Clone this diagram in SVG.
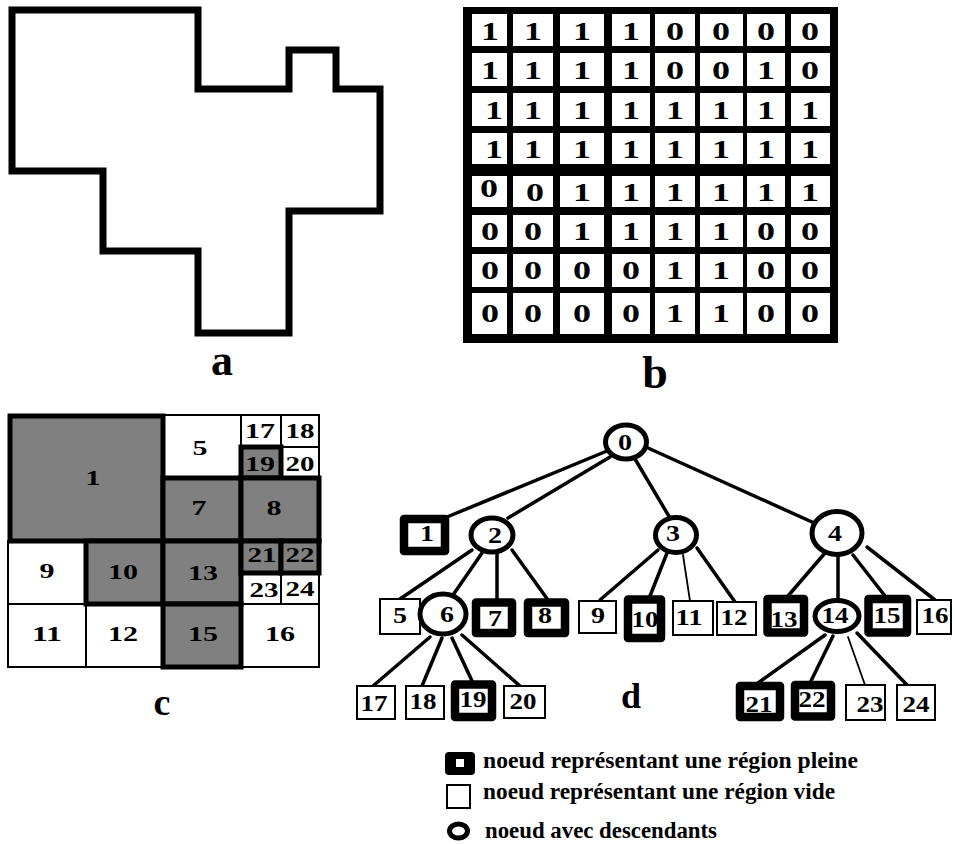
<svg xmlns="http://www.w3.org/2000/svg" width="955" height="844" viewBox="0 0 955 844">
  <style>
    text { font-family: "Liberation Serif", "Times New Roman", serif; font-weight: bold; fill: #000; }
    .big { font-size: 44px; text-anchor: middle; }
    .bd { font-size: 25px; text-anchor: middle; }
    .cd { font-size: 20px; text-anchor: middle; }
    .td { font-size: 23px; text-anchor: middle; }
    .leg { font-size: 23px; }
    .outline { fill: none; stroke: #000; stroke-width: 7; stroke-linejoin: miter; }
    .cell { fill: #fff; }
    .qw { fill: #fff; stroke: #000; stroke-width: 2; }
    .qg { fill: #808080; stroke: #000; stroke-width: 5; }
    .full { fill: #fff; stroke: #000; stroke-width: 8.5; stroke-linejoin: round; }
    .empty { fill: #fff; stroke: #000; stroke-width: 2; }
    .inner { fill: #fff; stroke: #000; stroke-width: 5; }
    .edge { stroke: #000; stroke-width: 3.5; stroke-linecap: round; }
    .edge.thin { stroke-width: 1.8; }
  </style>

  <rect width="955" height="844" fill="#fff"/>

  <!-- (a) shape outline on an 8x8 raster -->
  <g id="shape-a">
    <path class="outline" d="M12,10 H198 V89 H289 V50 H336 V89 H380 V211 H289 V333 H198 V251 H103 V171 H12 Z"/>
    <text class="big" x="222" y="375">a</text>
  </g>

  <!-- (b) binary matrix -->
  <g id="matrix-b">
    <rect x="463" y="7" width="375" height="336" fill="#000"/>
    <g class="cell">
      <rect x="472" y="14" width="35" height="32"/><rect x="513" y="14" width="40" height="32"/><rect x="560" y="14" width="44" height="32"/><rect x="612" y="14" width="38" height="32"/><rect x="655" y="14" width="40" height="32"/><rect x="700" y="14" width="43" height="32"/><rect x="747" y="14" width="38" height="32"/><rect x="791" y="14" width="39" height="32"/>
      <rect x="472" y="53" width="35" height="33"/><rect x="513" y="53" width="40" height="33"/><rect x="560" y="53" width="44" height="33"/><rect x="612" y="53" width="38" height="33"/><rect x="655" y="53" width="40" height="33"/><rect x="700" y="53" width="43" height="33"/><rect x="747" y="53" width="38" height="33"/><rect x="791" y="53" width="39" height="33"/>
      <rect x="472" y="93" width="35" height="33"/><rect x="513" y="93" width="40" height="33"/><rect x="560" y="93" width="44" height="33"/><rect x="612" y="93" width="38" height="33"/><rect x="655" y="93" width="40" height="33"/><rect x="700" y="93" width="43" height="33"/><rect x="747" y="93" width="38" height="33"/><rect x="791" y="93" width="39" height="33"/>
      <rect x="472" y="133" width="35" height="31"/><rect x="513" y="133" width="40" height="31"/><rect x="560" y="133" width="44" height="31"/><rect x="612" y="133" width="38" height="31"/><rect x="655" y="133" width="40" height="31"/><rect x="700" y="133" width="43" height="31"/><rect x="747" y="133" width="38" height="31"/><rect x="791" y="133" width="39" height="31"/>
      <rect x="472" y="176" width="35" height="31"/><rect x="513" y="176" width="40" height="31"/><rect x="560" y="176" width="44" height="31"/><rect x="612" y="176" width="38" height="31"/><rect x="655" y="176" width="40" height="31"/><rect x="700" y="176" width="43" height="31"/><rect x="747" y="176" width="38" height="31"/><rect x="791" y="176" width="39" height="31"/>
      <rect x="472" y="215" width="35" height="32"/><rect x="513" y="215" width="40" height="32"/><rect x="560" y="215" width="44" height="32"/><rect x="612" y="215" width="38" height="32"/><rect x="655" y="215" width="40" height="32"/><rect x="700" y="215" width="43" height="32"/><rect x="747" y="215" width="38" height="32"/><rect x="791" y="215" width="39" height="32"/>
      <rect x="472" y="254" width="35" height="33"/><rect x="513" y="254" width="40" height="33"/><rect x="560" y="254" width="44" height="33"/><rect x="612" y="254" width="38" height="33"/><rect x="655" y="254" width="40" height="33"/><rect x="700" y="254" width="43" height="33"/><rect x="747" y="254" width="38" height="33"/><rect x="791" y="254" width="39" height="33"/>
      <rect x="472" y="293" width="35" height="41"/><rect x="513" y="293" width="40" height="41"/><rect x="560" y="293" width="44" height="41"/><rect x="612" y="293" width="38" height="41"/><rect x="655" y="293" width="40" height="41"/><rect x="700" y="293" width="43" height="41"/><rect x="747" y="293" width="38" height="41"/><rect x="791" y="293" width="39" height="41"/>
    </g>
    <g class="bd">
      <text x="490" y="40" textLength="18" lengthAdjust="spacingAndGlyphs">1</text><text x="533" y="40" textLength="18" lengthAdjust="spacingAndGlyphs">1</text><text x="582" y="40" textLength="18" lengthAdjust="spacingAndGlyphs">1</text><text x="631" y="40" textLength="18" lengthAdjust="spacingAndGlyphs">1</text><text x="675" y="40" textLength="18" lengthAdjust="spacingAndGlyphs">0</text><text x="721" y="40" textLength="18" lengthAdjust="spacingAndGlyphs">0</text><text x="766" y="40" textLength="18" lengthAdjust="spacingAndGlyphs">0</text><text x="810" y="40" textLength="18" lengthAdjust="spacingAndGlyphs">0</text>
      <text x="490" y="79" textLength="18" lengthAdjust="spacingAndGlyphs">1</text><text x="533" y="79" textLength="18" lengthAdjust="spacingAndGlyphs">1</text><text x="582" y="79" textLength="18" lengthAdjust="spacingAndGlyphs">1</text><text x="631" y="79" textLength="18" lengthAdjust="spacingAndGlyphs">1</text><text x="675" y="79" textLength="18" lengthAdjust="spacingAndGlyphs">0</text><text x="721" y="79" textLength="18" lengthAdjust="spacingAndGlyphs">0</text><text x="766" y="79" textLength="18" lengthAdjust="spacingAndGlyphs">1</text><text x="810" y="79" textLength="18" lengthAdjust="spacingAndGlyphs">0</text>
      <text x="494" y="119" textLength="18" lengthAdjust="spacingAndGlyphs">1</text><text x="533" y="119" textLength="18" lengthAdjust="spacingAndGlyphs">1</text><text x="582" y="119" textLength="18" lengthAdjust="spacingAndGlyphs">1</text><text x="631" y="119" textLength="18" lengthAdjust="spacingAndGlyphs">1</text><text x="675" y="119" textLength="18" lengthAdjust="spacingAndGlyphs">1</text><text x="721" y="119" textLength="18" lengthAdjust="spacingAndGlyphs">1</text><text x="766" y="119" textLength="18" lengthAdjust="spacingAndGlyphs">1</text><text x="810" y="119" textLength="18" lengthAdjust="spacingAndGlyphs">1</text>
      <text x="494" y="158" textLength="18" lengthAdjust="spacingAndGlyphs">1</text><text x="533" y="158" textLength="18" lengthAdjust="spacingAndGlyphs">1</text><text x="582" y="158" textLength="18" lengthAdjust="spacingAndGlyphs">1</text><text x="631" y="158" textLength="18" lengthAdjust="spacingAndGlyphs">1</text><text x="675" y="158" textLength="18" lengthAdjust="spacingAndGlyphs">1</text><text x="721" y="158" textLength="18" lengthAdjust="spacingAndGlyphs">1</text><text x="766" y="158" textLength="18" lengthAdjust="spacingAndGlyphs">1</text><text x="810" y="158" textLength="18" lengthAdjust="spacingAndGlyphs">1</text>
      <text x="489" y="197" textLength="18" lengthAdjust="spacingAndGlyphs">0</text><text x="535" y="201" textLength="18" lengthAdjust="spacingAndGlyphs">0</text><text x="582" y="201" textLength="18" lengthAdjust="spacingAndGlyphs">1</text><text x="631" y="201" textLength="18" lengthAdjust="spacingAndGlyphs">1</text><text x="675" y="201" textLength="18" lengthAdjust="spacingAndGlyphs">1</text><text x="721" y="201" textLength="18" lengthAdjust="spacingAndGlyphs">1</text><text x="766" y="201" textLength="18" lengthAdjust="spacingAndGlyphs">1</text><text x="810" y="201" textLength="18" lengthAdjust="spacingAndGlyphs">1</text>
      <text x="490" y="240" textLength="18" lengthAdjust="spacingAndGlyphs">0</text><text x="533" y="240" textLength="18" lengthAdjust="spacingAndGlyphs">0</text><text x="582" y="240" textLength="18" lengthAdjust="spacingAndGlyphs">1</text><text x="631" y="240" textLength="18" lengthAdjust="spacingAndGlyphs">1</text><text x="675" y="240" textLength="18" lengthAdjust="spacingAndGlyphs">1</text><text x="721" y="240" textLength="18" lengthAdjust="spacingAndGlyphs">1</text><text x="766" y="240" textLength="18" lengthAdjust="spacingAndGlyphs">0</text><text x="810" y="240" textLength="18" lengthAdjust="spacingAndGlyphs">0</text>
      <text x="490" y="279" textLength="18" lengthAdjust="spacingAndGlyphs">0</text><text x="533" y="279" textLength="18" lengthAdjust="spacingAndGlyphs">0</text><text x="582" y="279" textLength="18" lengthAdjust="spacingAndGlyphs">0</text><text x="631" y="279" textLength="18" lengthAdjust="spacingAndGlyphs">0</text><text x="675" y="279" textLength="18" lengthAdjust="spacingAndGlyphs">1</text><text x="721" y="279" textLength="18" lengthAdjust="spacingAndGlyphs">1</text><text x="766" y="279" textLength="18" lengthAdjust="spacingAndGlyphs">0</text><text x="810" y="279" textLength="18" lengthAdjust="spacingAndGlyphs">0</text>
      <text x="490" y="322" textLength="18" lengthAdjust="spacingAndGlyphs">0</text><text x="533" y="322" textLength="18" lengthAdjust="spacingAndGlyphs">0</text><text x="582" y="322" textLength="18" lengthAdjust="spacingAndGlyphs">0</text><text x="631" y="322" textLength="18" lengthAdjust="spacingAndGlyphs">0</text><text x="675" y="322" textLength="18" lengthAdjust="spacingAndGlyphs">1</text><text x="721" y="322" textLength="18" lengthAdjust="spacingAndGlyphs">1</text><text x="766" y="322" textLength="18" lengthAdjust="spacingAndGlyphs">0</text><text x="810" y="322" textLength="18" lengthAdjust="spacingAndGlyphs">0</text>
    </g>
    <text class="big" x="655" y="388" style="font-size:46px">b</text>
  </g>

  <!-- (c) quadtree decomposition: white (empty) blocks, then grey (full) blocks -->
  <g id="blocks-c">
    <rect class="qw" x="163" y="415" width="78" height="63"/>
    <rect class="qw" x="241" y="415" width="40" height="32"/>
    <rect class="qw" x="281" y="415" width="38" height="32"/>
    <rect class="qw" x="281" y="447" width="38" height="31"/>
    <rect class="qw" x="8" y="541" width="78" height="63"/>
    <rect class="qw" x="241" y="573" width="40" height="31"/>
    <rect class="qw" x="281" y="573" width="38" height="31"/>
    <rect class="qw" x="8" y="604" width="78" height="63"/>
    <rect class="qw" x="86" y="604" width="77" height="63"/>
    <rect class="qw" x="241" y="604" width="78" height="63"/>

    <rect class="qg" x="10" y="416" width="153" height="125"/>
    <rect class="qg" x="241" y="447" width="40" height="31"/>
    <rect class="qg" x="163" y="478" width="78" height="63"/>
    <rect class="qg" x="241" y="478" width="78" height="63"/>
    <rect class="qg" x="86" y="541" width="77" height="63"/>
    <rect class="qg" x="163" y="541" width="78" height="63"/>
    <rect class="qg" x="241" y="541" width="40" height="32"/>
    <rect class="qg" x="281" y="541" width="38" height="32"/>
    <rect class="qg" x="163" y="604" width="78" height="63"/>

    <g class="cd">
      <text x="93" y="485" textLength="15" lengthAdjust="spacingAndGlyphs">1</text>
      <text x="200" y="455" textLength="15" lengthAdjust="spacingAndGlyphs">5</text>
      <text x="260" y="438" textLength="30" lengthAdjust="spacingAndGlyphs">17</text>
      <text x="300" y="438" textLength="29" lengthAdjust="spacingAndGlyphs">18</text>
      <text x="260" y="471" textLength="30" lengthAdjust="spacingAndGlyphs">19</text>
      <text x="300" y="471" textLength="29" lengthAdjust="spacingAndGlyphs">20</text>
      <text x="199" y="515" textLength="15" lengthAdjust="spacingAndGlyphs">7</text>
      <text x="274" y="515" textLength="15" lengthAdjust="spacingAndGlyphs">8</text>
      <text x="47" y="578" textLength="15" lengthAdjust="spacingAndGlyphs">9</text>
      <text x="123" y="579" textLength="30" lengthAdjust="spacingAndGlyphs">10</text>
      <text x="203" y="580" textLength="30" lengthAdjust="spacingAndGlyphs">13</text>
      <text x="262" y="562" textLength="29" lengthAdjust="spacingAndGlyphs">21</text>
      <text x="300" y="562" textLength="29" lengthAdjust="spacingAndGlyphs">22</text>
      <text x="264" y="597" textLength="29" lengthAdjust="spacingAndGlyphs">23</text>
      <text x="300" y="596" textLength="29" lengthAdjust="spacingAndGlyphs">24</text>
      <text x="47" y="641" textLength="30" lengthAdjust="spacingAndGlyphs">11</text>
      <text x="123" y="641" textLength="30" lengthAdjust="spacingAndGlyphs">12</text>
      <text x="203" y="641" textLength="30" lengthAdjust="spacingAndGlyphs">15</text>
      <text x="280" y="641" textLength="30" lengthAdjust="spacingAndGlyphs">16</text>
    </g>
    <text class="big" x="162" y="715" style="font-size:38px">c</text>
  </g>

  <!-- (d) quadtree: connectors -->
  <g id="connectors">
    <line class="edge" x1="607" y1="451" x2="447" y2="517"/>
    <line class="edge" x1="610" y1="457" x2="508" y2="518"/>
    <line class="edge" x1="635" y1="459" x2="670" y2="518"/>
    <line class="edge" x1="648" y1="448" x2="812" y2="522"/>
    <line class="edge" x1="472" y1="550" x2="400" y2="599"/>
    <line class="edge" x1="482" y1="553" x2="453" y2="595"/>
    <line class="edge" x1="497" y1="553" x2="497" y2="599"/>
    <line class="edge" x1="512" y1="550" x2="548" y2="600"/>
    <line class="edge" x1="658" y1="550" x2="600" y2="600"/>
    <line class="edge" x1="667" y1="553" x2="650" y2="596"/>
    <line class="edge thin" x1="683" y1="555" x2="690" y2="601"/>
    <line class="edge" x1="697" y1="548" x2="735" y2="602"/>
    <line class="edge" x1="825" y1="553" x2="788" y2="596"/>
    <line class="edge" x1="838" y1="555" x2="838" y2="598"/>
    <line class="edge" x1="853" y1="555" x2="885" y2="596"/>
    <line class="edge" x1="867" y1="547" x2="935" y2="600"/>
    <line class="edge" x1="430" y1="637" x2="373" y2="686"/>
    <line class="edge" x1="442" y1="638" x2="422" y2="686"/>
    <line class="edge" x1="452" y1="638" x2="473" y2="683"/>
    <line class="edge" x1="462" y1="635" x2="520" y2="686"/>
    <line class="edge" x1="825" y1="635" x2="758" y2="683"/>
    <line class="edge" x1="833" y1="636" x2="810" y2="683"/>
    <line class="edge thin" x1="848" y1="637" x2="865" y2="685"/>
    <line class="edge" x1="857" y1="633" x2="908" y2="686"/>
  </g>

  <!-- (d) quadtree: nodes -->
  <g id="node-0"><ellipse class="inner" cx="626" cy="442" rx="20.5" ry="17"/><text class="td" x="625" y="450" textLength="14" lengthAdjust="spacingAndGlyphs">0</text></g>
  <g id="node-1"><rect class="full" x="404" y="519" width="41" height="32"/><text class="td" x="427" y="541" textLength="14" lengthAdjust="spacingAndGlyphs">1</text></g>
  <g id="node-2"><ellipse class="inner" cx="492" cy="535" rx="21" ry="17"/><text class="td" x="495" y="543" textLength="14" lengthAdjust="spacingAndGlyphs">2</text></g>
  <g id="node-3"><ellipse class="inner" cx="676" cy="535" rx="20.5" ry="17.5"/><text class="td" x="673" y="541" textLength="14" lengthAdjust="spacingAndGlyphs">3</text></g>
  <g id="node-4"><ellipse class="inner" cx="837" cy="533" rx="25" ry="21.5"/><text class="td" x="835" y="541" textLength="14" lengthAdjust="spacingAndGlyphs">4</text></g>
  <g id="node-5"><rect class="empty" x="380" y="599" width="40" height="35"/><text class="td" x="400" y="623" textLength="14" lengthAdjust="spacingAndGlyphs">5</text></g>
  <g id="node-6"><ellipse class="inner" cx="443" cy="614" rx="23" ry="20"/><text class="td" x="447" y="622" textLength="14" lengthAdjust="spacingAndGlyphs">6</text></g>
  <g id="node-7"><rect class="full" x="476" y="602.5" width="36" height="30.5"/><text class="td" x="495" y="626" textLength="14" lengthAdjust="spacingAndGlyphs">7</text></g>
  <g id="node-8"><rect class="full" x="528" y="602.5" width="37" height="30.5"/><text class="td" x="545" y="623" textLength="14" lengthAdjust="spacingAndGlyphs">8</text></g>
  <g id="node-9"><rect class="empty" x="579" y="601" width="37" height="32"/><text class="td" x="598" y="623" textLength="14" lengthAdjust="spacingAndGlyphs">9</text></g>
  <g id="node-10"><rect class="full" x="628" y="599.5" width="33" height="38.5"/><text class="td" x="645" y="627" textLength="27" lengthAdjust="spacingAndGlyphs">10</text></g>
  <g id="node-11"><rect class="empty" x="673" y="601" width="40" height="34"/><text class="td" x="689" y="625" textLength="27" lengthAdjust="spacingAndGlyphs">11</text></g>
  <g id="node-12"><rect class="empty" x="717" y="602" width="39" height="33"/><text class="td" x="734" y="625" textLength="27" lengthAdjust="spacingAndGlyphs">12</text></g>
  <g id="node-13"><rect class="full" x="767.5" y="599" width="36.5" height="33.5"/><text class="td" x="784" y="627" textLength="27" lengthAdjust="spacingAndGlyphs">13</text></g>
  <g id="node-14"><ellipse class="inner" cx="837" cy="616" rx="22" ry="15.5"/><text class="td" x="835" y="623" textLength="27" lengthAdjust="spacingAndGlyphs">14</text></g>
  <g id="node-15"><rect class="full" x="868.5" y="599" width="38.5" height="33.5"/><text class="td" x="887" y="623" textLength="27" lengthAdjust="spacingAndGlyphs">15</text></g>
  <g id="node-16"><rect class="empty" x="917" y="600" width="34" height="34"/><text class="td" x="935" y="623" textLength="27" lengthAdjust="spacingAndGlyphs">16</text></g>
  <g id="node-17"><rect class="empty" x="357" y="686" width="38" height="33"/><text class="td" x="374" y="711" textLength="27" lengthAdjust="spacingAndGlyphs">17</text></g>
  <g id="node-18"><rect class="empty" x="406" y="686" width="38" height="33"/><text class="td" x="423" y="709" textLength="27" lengthAdjust="spacingAndGlyphs">18</text></g>
  <g id="node-19"><rect class="full" x="455" y="684.5" width="37" height="32.5"/><text class="td" x="473" y="707" textLength="27" lengthAdjust="spacingAndGlyphs">19</text></g>
  <g id="node-20"><rect class="empty" x="504" y="686" width="41" height="32"/><text class="td" x="523" y="709" textLength="27" lengthAdjust="spacingAndGlyphs">20</text></g>
  <g id="node-21"><rect class="full" x="740" y="686" width="40" height="31"/><text class="td" x="759" y="712" textLength="27" lengthAdjust="spacingAndGlyphs">21</text></g>
  <g id="node-22"><rect class="full" x="795" y="685" width="36" height="31.5"/><text class="td" x="812" y="707" textLength="27" lengthAdjust="spacingAndGlyphs">22</text></g>
  <g id="node-23"><rect class="empty" x="846" y="685" width="39" height="35"/><text class="td" x="870" y="712" textLength="27" lengthAdjust="spacingAndGlyphs">23</text></g>
  <g id="node-24"><rect class="empty" x="897" y="685" width="38" height="35"/><text class="td" x="916" y="712" textLength="27" lengthAdjust="spacingAndGlyphs">24</text></g>
  <text class="big" x="631" y="708" style="font-size:36px">d</text>

  <!-- legend -->
  <g id="legend">
    <rect x="445" y="752" width="30" height="23" rx="4" fill="#000"/>
    <rect x="456" y="759" width="8" height="8" fill="#fff"/>
    <text class="leg" x="483" y="768" textLength="375" lengthAdjust="spacingAndGlyphs">noeud représentant une région pleine</text>
    <rect x="447" y="785" width="23" height="23" fill="#fff" stroke="#000" stroke-width="2"/>
    <text class="leg" x="483" y="799" textLength="352" lengthAdjust="spacingAndGlyphs">noeud représentant une région vide</text>
    <ellipse cx="458.5" cy="831" rx="9" ry="7" fill="#fff" stroke="#000" stroke-width="5"/>
    <text class="leg" x="485" y="838" textLength="232" lengthAdjust="spacingAndGlyphs">noeud avec descendants</text>
  </g>
</svg>
